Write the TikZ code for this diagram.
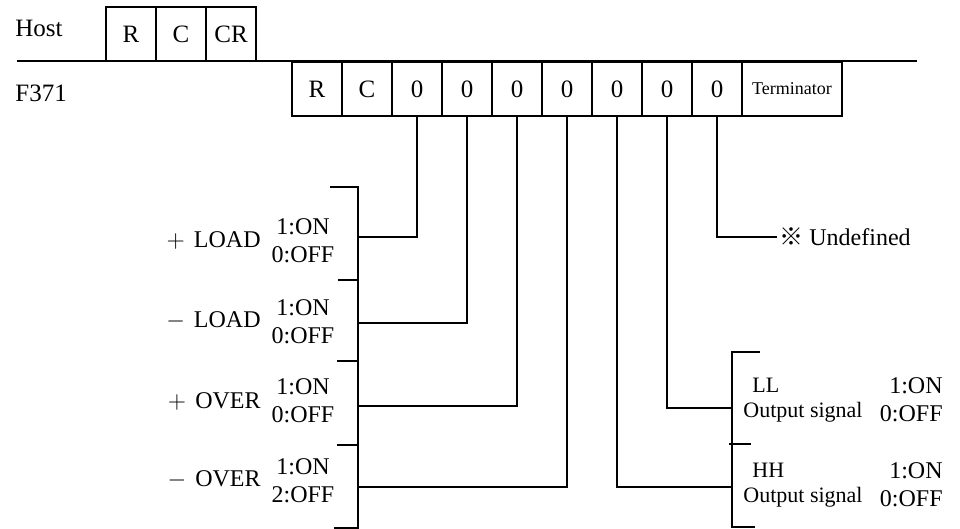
\documentclass[tikz,border=0pt]{standalone}
\usepackage{fontspec}
\setmainfont{Liberation Serif}
\newfontfamily\cjk{Noto Sans CJK JP}
\usetikzlibrary{positioning}

\begin{document}
\begin{tikzpicture}[x=0.5pt, y=-0.5pt,
    cell/.style={draw, line width=0.7pt, outer sep=0pt, inner sep=0pt,
                 minimum width=25pt, minimum height=27pt,
                 font=\fontsize{12.5}{14}\selectfont},
    lbl/.style={inner sep=0pt, font=\fontsize{12}{14}\selectfont},
    sig/.style={inner sep=0pt, font=\fontsize{11}{12.5}\selectfont},
    wire/.style={line width=0.7pt}
  ]
  \useasboundingbox (0,0) rectangle (960,529);

  % host command
  \node[lbl, anchor=base west, font=\fontsize{12.5}{14}\selectfont] (host) at (15,37) {Host};
  \node[cell] (hR) at (131,34) {R};
  \node[cell, right=0pt of hR] (hC) {C};
  \node[cell, right=0pt of hC] (hCR) {CR};
  \draw[wire] (17,61) -- (917,61);

  % F371 reply
  \node[lbl, anchor=base west, font=\fontsize{12.5}{14}\selectfont] (f371) at (15,102) {F371};
  \node[cell] (fR) at (317,89) {R};
  \node[cell, right=0pt of fR] (fC) {C};
  \node[cell, right=0pt of fC] (d1) {0};
  \node[cell, right=0pt of d1] (d2) {0};
  \node[cell, right=0pt of d2] (d3) {0};
  \node[cell, right=0pt of d3] (d4) {0};
  \node[cell, right=0pt of d4] (d5) {0};
  \node[cell, right=0pt of d5] (d6) {0};
  \node[cell, right=0pt of d6] (d7) {0};
  \node[cell, right=0pt of d7, minimum width=50pt, font=\fontsize{9}{10}\selectfont] (term) {Terminator};

  % left bracket
  \draw[wire] (330,187) -- (358,187) -- (358,528) -- (334,528);
  \draw[wire] (338,280) -- (358,280);
  \draw[wire] (337,361) -- (358,361);
  \draw[wire] (337,445) -- (358,445);
  \coordinate (lb1) at (358,237);
  \coordinate (lb2) at (358,323);
  \coordinate (lb3) at (358,406);
  \coordinate (lb4) at (358,487);

  \node[lbl, anchor=east] (ploadname) at (261,240) {$+$\hspace{1.5pt}\ LOAD};
  \node[lbl, align=center] (ploadval) at (303,241) {1:ON\\0:OFF};
  \node[lbl, anchor=east] (mloadname) at (261,321) {$-$\hspace{1.5pt}\ LOAD};
  \node[lbl, align=center] (mloadval) at (303,322) {1:ON\\0:OFF};
  \node[lbl, anchor=east] (povername) at (261,401) {$+$\hspace{1.5pt}\ OVER};
  \node[lbl, align=center] (poverval) at (303,401) {1:ON\\0:OFF};
  \node[lbl, anchor=east] (movername) at (261,480) {$-$\hspace{1.5pt}\ OVER};
  \node[lbl, align=center] (moverval) at (303,481) {1:ON\\2:OFF};

  \draw[wire] (d1.south) |- (lb1);
  \draw[wire] (d2.south) |- (lb2);
  \draw[wire] (d3.south) |- (lb3);
  \draw[wire] (d4.south) |- (lb4);

  % right bracket
  \draw[wire] (760,352) -- (732,352) -- (732,527) -- (755,527);
  \draw[wire] (729,444) -- (751,444);
  \coordinate (rb1) at (732,408);
  \coordinate (rb2) at (732,487);

  \node[sig, align=left, anchor=west] (llname) at (743,400) {\hspace{4.5pt}LL\\Output signal};
  \node[lbl, align=right, anchor=east] (llval) at (943,400) {1:ON\\0:OFF};
  \node[sig, align=left, anchor=west] (hhname) at (743,485) {\hspace{4.5pt}HH\\Output signal};
  \node[lbl, align=right, anchor=east] (hhval) at (943,485) {1:ON\\0:OFF};

  \draw[wire] (d6.south) |- (rb1);
  \draw[wire] (d5.south) |- (rb2);

  % undefined bit
  \node[lbl, anchor=west, inner sep=1pt] (undef) at (777,237) {{\cjk ※} Undefined};
  \draw[wire] (d7.south) |- (undef.west);

\end{tikzpicture}
\end{document}
